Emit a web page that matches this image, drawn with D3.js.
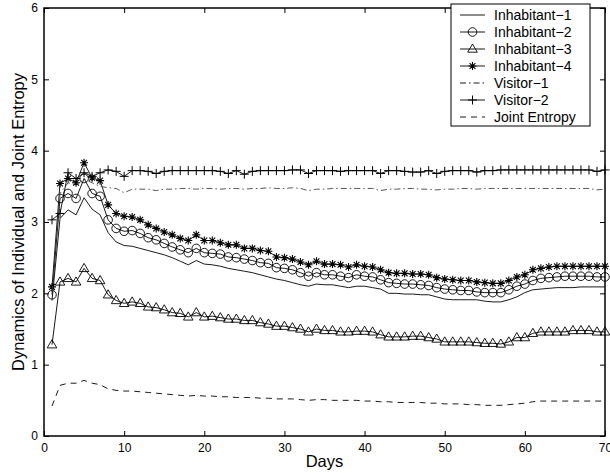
<!DOCTYPE html>
<html>
<head>
<meta charset="utf-8">
<script src="https://cdn.jsdelivr.net/npm/d3@7"></script>
<style>
  body { margin: 0; background: #fff; }
  svg { font-family: "Liberation Sans", Arial, sans-serif; }
</style>
</head>
<body>
<div id="chart"></div>
<script>
// values, days 1..70
var days = d3.range(1, 71);

var inhabitant1 = [1.90,3.05,3.17,3.10,3.34,3.18,3.10,2.85,2.72,2.67,2.66,2.63,2.60,2.57,2.54,2.50,2.45,2.40,2.46,2.41,
  2.40,2.38,2.35,2.33,2.31,2.29,2.26,2.23,2.20,2.18,2.15,2.12,2.10,2.13,2.12,2.12,2.10,2.08,2.10,2.10,
  2.08,2.06,2.00,2.00,1.99,1.99,1.98,1.98,1.95,1.92,1.91,1.91,1.91,1.91,1.89,1.88,1.88,1.91,1.95,2.01,
  2.05,2.06,2.07,2.08,2.08,2.08,2.09,2.09,2.09,2.09];
var inhabitant2 = [1.98,3.33,3.40,3.33,3.61,3.40,3.36,3.03,2.91,2.87,2.88,2.84,2.78,2.75,2.70,2.65,2.61,2.57,2.63,2.57,
  2.56,2.55,2.51,2.50,2.48,2.46,2.43,2.42,2.36,2.35,2.33,2.29,2.24,2.29,2.26,2.26,2.24,2.22,2.26,2.24,
  2.23,2.19,2.15,2.14,2.13,2.13,2.12,2.11,2.08,2.06,2.05,2.04,2.04,2.02,2.01,2.01,2.01,2.05,2.10,2.13,
  2.18,2.21,2.22,2.23,2.24,2.24,2.24,2.24,2.23,2.23];
var inhabitant3 = [1.28,2.16,2.21,2.16,2.35,2.21,2.18,1.98,1.90,1.86,1.88,1.86,1.81,1.80,1.77,1.73,1.72,1.67,1.73,1.67,
  1.68,1.66,1.64,1.64,1.62,1.62,1.59,1.57,1.54,1.54,1.52,1.50,1.46,1.50,1.48,1.48,1.46,1.46,1.47,1.47,
  1.46,1.42,1.39,1.39,1.39,1.40,1.40,1.38,1.36,1.32,1.32,1.32,1.32,1.31,1.30,1.30,1.29,1.32,1.38,1.38,
  1.44,1.46,1.46,1.46,1.46,1.48,1.48,1.48,1.46,1.46];
var inhabitant4 = [2.09,3.54,3.61,3.55,3.83,3.62,3.58,3.24,3.12,3.08,3.07,3.03,2.96,2.91,2.86,2.82,2.77,2.74,2.82,2.74,
  2.74,2.71,2.68,2.68,2.63,2.63,2.60,2.59,2.51,2.50,2.48,2.44,2.40,2.45,2.41,2.41,2.40,2.37,2.40,2.38,
  2.37,2.33,2.29,2.28,2.28,2.27,2.27,2.26,2.22,2.20,2.19,2.18,2.18,2.16,2.15,2.14,2.14,2.18,2.23,2.26,
  2.33,2.35,2.37,2.38,2.38,2.38,2.38,2.38,2.38,2.38];
var visitor1 = [2.02,3.40,3.55,3.52,3.60,3.55,3.50,3.48,3.47,3.41,3.46,3.46,3.46,3.44,3.46,3.46,3.47,3.47,3.46,3.47,
  3.47,3.46,3.47,3.47,3.46,3.47,3.47,3.48,3.47,3.47,3.48,3.47,3.44,3.46,3.46,3.47,3.47,3.47,3.47,3.47,
  3.47,3.44,3.46,3.46,3.47,3.47,3.46,3.46,3.45,3.46,3.46,3.47,3.47,3.46,3.47,3.47,3.47,3.47,3.47,3.47,
  3.47,3.47,3.47,3.47,3.47,3.47,3.47,3.47,3.45,3.46];
var visitor2 = [3.03,3.12,3.69,3.61,3.69,3.64,3.69,3.73,3.71,3.64,3.72,3.72,3.71,3.68,3.71,3.72,3.72,3.72,3.72,3.72,
  3.72,3.71,3.68,3.72,3.67,3.71,3.72,3.72,3.72,3.72,3.73,3.73,3.68,3.72,3.72,3.72,3.71,3.72,3.72,3.72,
  3.72,3.68,3.72,3.72,3.71,3.70,3.70,3.72,3.68,3.71,3.72,3.72,3.72,3.70,3.72,3.72,3.73,3.73,3.73,3.73,
  3.73,3.73,3.73,3.73,3.73,3.73,3.73,3.73,3.71,3.73];
var jointEntropy = [0.42,0.71,0.74,0.74,0.78,0.74,0.72,0.66,0.64,0.63,0.63,0.62,0.61,0.60,0.59,0.58,0.57,0.56,0.57,0.56,
  0.56,0.55,0.55,0.54,0.54,0.54,0.53,0.53,0.52,0.52,0.52,0.51,0.50,0.51,0.51,0.50,0.50,0.50,0.50,0.49,
  0.49,0.48,0.48,0.47,0.47,0.47,0.47,0.46,0.46,0.45,0.45,0.45,0.44,0.44,0.43,0.43,0.43,0.44,0.45,0.46,
  0.48,0.49,0.49,0.49,0.49,0.49,0.49,0.49,0.49,0.49];

var seriesNames = ["Inhabitant\u22121", "Inhabitant\u22122", "Inhabitant\u22123", "Inhabitant\u22124",
  "Visitor\u22121", "Visitor\u22122", "Joint Entropy"];
var xTicks = [0, 10, 20, 30, 40, 50, 60, 70];
var yTicks = [0, 1, 2, 3, 4, 5, 6];

var series = [
  {name: seriesNames[0], values: inhabitant1, marker: null, dash: null},
  {name: seriesNames[1], values: inhabitant2, marker: "circle", dash: null},
  {name: seriesNames[2], values: inhabitant3, marker: "triangle", dash: null},
  {name: seriesNames[3], values: inhabitant4, marker: "star", dash: null},
  {name: seriesNames[4], values: visitor1, marker: null, dash: "6,3,1.5,3"},
  {name: seriesNames[5], values: visitor2, marker: "plus", dash: null},
  {name: seriesNames[6], values: jointEntropy, marker: null, dash: "6,5"}
];

var W = 610, H = 473;
var margin = {top: 8, right: 5, bottom: 37, left: 44};
var width = W - margin.left - margin.right, height = H - margin.top - margin.bottom;

var svg = d3.select("#chart").append("svg")
    .attr("width", W)
    .attr("height", H);
var g = svg.append("g")
    .attr("transform", "translate(" + margin.left + "," + margin.top + ")");

var x = d3.scaleLinear().domain([0, 70]).range([0, width]);
var y = d3.scaleLinear().domain([0, 6]).range([height, 0]);

// axes, Matlab style: ticks inside on all four sides
function styleAxis(sel) {
    sel.select(".domain").remove();
    sel.selectAll("line").attr("stroke", "#000");
    sel.selectAll("text").style("font-size", "12px").attr("fill", "#000");
}
g.append("g")
    .attr("transform", "translate(0," + height + ")")
    .call(d3.axisBottom(x).tickValues(xTicks).tickSizeInner(-5).tickSizeOuter(0).tickPadding(7).tickFormat(d3.format("d")))
    .call(styleAxis);
g.append("g")
    .call(d3.axisTop(x).tickValues(xTicks).tickSizeInner(-5).tickSizeOuter(0).tickFormat(""))
    .call(styleAxis);
g.append("g")
    .call(d3.axisLeft(y).tickValues(yTicks).tickSizeInner(-5).tickSizeOuter(0).tickPadding(6).tickFormat(d3.format("d")))
    .call(styleAxis);
g.append("g")
    .attr("transform", "translate(" + width + ",0)")
    .call(d3.axisRight(y).tickValues(yTicks).tickSizeInner(-5).tickSizeOuter(0).tickFormat(""))
    .call(styleAxis);
g.append("rect")
    .attr("width", width).attr("height", height)
    .attr("fill", "none").attr("stroke", "#000").attr("stroke-width", 1.5);

// markers
function drawMarker(sel, type) {
    if (type === "circle") {
        sel.append("circle").attr("r", 4.3).attr("fill", "none").attr("stroke", "#000").attr("stroke-width", 0.9);
    } else if (type === "triangle") {
        sel.append("path").attr("d", "M0,-5L4.8,3.2L-4.8,3.2Z").attr("fill", "none").attr("stroke", "#000").attr("stroke-width", 0.9);
    } else if (type === "star") {
        sel.append("path").attr("d", "M-4,0H4M0,-4V4M-2.9,-2.9L2.9,2.9M-2.9,2.9L2.9,-2.9")
            .attr("stroke", "#000").attr("stroke-width", 1.1);
    } else if (type === "plus") {
        sel.append("path").attr("d", "M-4.5,0H4.5M0,-4.5V4.5").attr("stroke", "#000").attr("stroke-width", 1);
    }
}

var line = d3.line()
    .x(function(d, i) { return x(days[i]); })
    .y(function(d) { return y(d); });

series.forEach(function(s) {
    g.append("path")
        .datum(s.values)
        .attr("fill", "none")
        .attr("stroke", s.name === seriesNames[4] ? "#444" : "#000")
        .attr("stroke-width", 0.9)
        .attr("stroke-dasharray", s.dash)
        .attr("d", line);
    if (s.marker) {
        g.append("g").selectAll("g")
            .data(s.values)
            .enter().append("g")
            .attr("transform", function(d, i) { return "translate(" + x(days[i]) + "," + y(d) + ")"; })
            .each(function() { drawMarker(d3.select(this), s.marker); });
    }
});

// axis titles
svg.append("text")
    .attr("x", margin.left + width / 2).attr("y", 467)
    .attr("text-anchor", "middle").style("font-size", "16.5px")
    .text("Days");
svg.append("text")
    .attr("transform", "translate(24," + (margin.top + height / 2) + ") rotate(-90)")
    .attr("text-anchor", "middle").style("font-size", "16.5px")
    .text("Dynamics of Individual and Joint Entropy");

// legend
var legend = svg.append("g").attr("transform", "translate(451,4)");
legend.append("rect")
    .attr("width", 139).attr("height", 122)
    .attr("fill", "#fff").attr("stroke", "#000").attr("stroke-width", 1);
series.forEach(function(s, i) {
    var row = legend.append("g").attr("transform", "translate(0," + (11 + i * 17) + ")");
    row.append("line")
        .attr("x1", 9).attr("x2", 34)
        .attr("stroke", "#000").attr("stroke-width", 0.9)
        .attr("stroke-dasharray", s.dash);
    if (s.marker) {
        row.append("g").attr("transform", "translate(21.5,0)").call(drawMarker, s.marker);
    }
    row.append("text")
        .attr("x", 43).attr("y", 5)
        .style("font-size", "14px")
        .text(s.name);
});
</script>
</body>
</html>
